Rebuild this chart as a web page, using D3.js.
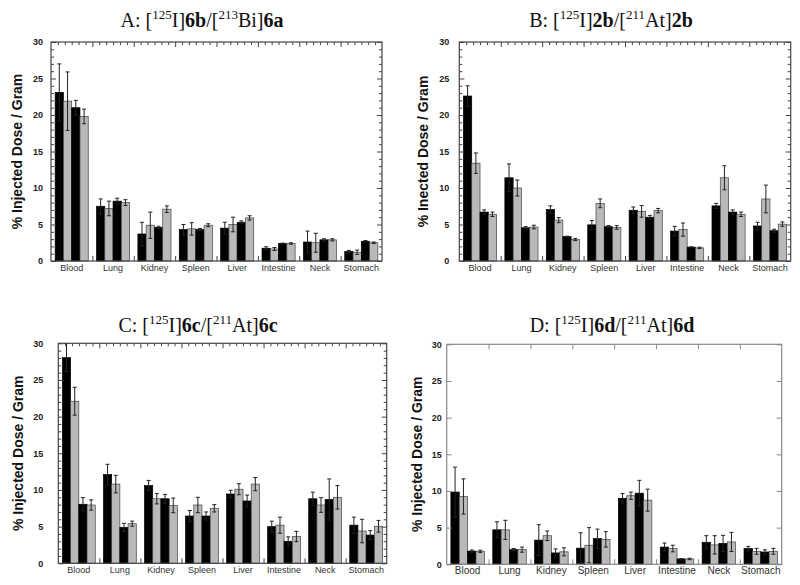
<!DOCTYPE html>
<html><head><meta charset="utf-8">
<script src="https://cdn.jsdelivr.net/npm/d3@7"></script>
<style>body{margin:0;background:#fff}svg{display:block}</style>
</head><body><div id="chart"></div>
<script>
const categories = ["Blood","Lung","Kidney","Spleen","Liver","Intestine","Neck","Stomach"];
const seriesKeys = ["I125_first","At_first","I125_second","At_second"];
const seriesFill = ["black","gray","black","gray"];
const yTicks = [0,5,10,15,20,25,30];

// Panel A: [125I]6b / [213Bi]6a  (mean per category, four bars)
const meanA = [[23.1,21.9,21.0,19.8],[7.5,7.2,8.2,8.0],[3.7,4.9,4.6,7.1],[4.3,4.4,4.3,4.9],[4.5,5.0,5.3,5.9],[1.75,1.65,2.4,2.4],[2.6,2.5,2.9,2.9],[1.3,1.2,2.7,2.5]];
const errA  = [[3.9,4.0,1.0,1.0],[1.0,1.0,0.4,0.4],[1.6,1.8,0.15,0.45],[0.7,0.85,0.15,0.2],[0.8,1.0,0.2,0.3],[0.2,0.2,0.05,0.1],[1.5,1.3,0.15,0.15],[0.15,0.3,0.1,0.1]];
// Panel B: [125I]2b / [211At]2b
const meanB = [[22.6,13.4,6.7,6.4],[11.4,10.0,4.55,4.65],[7.05,5.6,3.35,2.95],[4.95,7.9,4.7,4.6],[6.95,6.8,6.0,6.9],[4.1,4.3,1.9,1.8],[7.55,11.4,6.7,6.4],[4.8,8.5,4.15,5.05]];
const errB  = [[1.4,1.4,0.3,0.3],[1.9,1.1,0.15,0.25],[0.5,0.35,0.05,0.15],[0.6,0.6,0.15,0.25],[0.45,0.8,0.25,0.3],[0.65,0.9,0.05,0.1],[0.35,1.65,0.3,0.3],[0.5,1.9,0.2,0.3]];
// Panel C: [125I]6c / [211At]6c
const meanC = [[28.05,22.1,8.05,7.95],[12.1,10.8,4.9,5.4],[10.6,8.8,8.8,7.9],[6.45,7.95,6.45,7.5],[9.45,10.1,8.5,10.8],[5.0,5.2,3.0,3.65],[8.8,7.95,8.7,9.0],[5.2,4.4,3.85,5.05]];
const errC  = [[1.9,1.9,0.9,0.7],[1.4,1.2,0.55,0.35],[0.7,0.7,0.6,1.0],[0.75,1.05,0.55,0.5],[0.5,0.75,0.8,0.9],[0.75,1.1,0.6,0.7],[0.9,1.0,2.8,1.6],[1.1,1.6,0.6,0.8]];
// Panel D: [125I]6d / [211At]6d
const meanD = [[9.85,9.25,1.8,1.77],[4.7,4.7,2.0,2.0],[3.3,3.9,1.55,1.7],[2.2,2.6,3.5,3.4],[9.0,9.35,9.7,8.75],[2.35,2.15,0.73,0.73],[3.0,2.65,2.85,3.05],[2.15,1.77,1.68,1.77]];
const errD  = [[3.4,2.4,0.15,0.15],[1.1,1.3,0.15,0.35],[2.1,0.65,0.55,0.55],[2.1,2.4,1.3,1.05],[0.65,0.5,1.75,1.5],[0.55,0.45,0.05,0.1],[0.9,1.25,1.1,1.3],[0.3,0.4,0.3,0.4]];

const titleA = [["A: [",""],["125","sup"],["I]",""],["6b","b"],["/[",""],["213","sup"],["Bi]",""],["6a","b"]];
const titleB = [["B: [",""],["125","sup"],["I]",""],["2b","b"],["/[",""],["211","sup"],["At]",""],["2b","b"]];
const titleC = [["C: [",""],["125","sup"],["I]",""],["6c","b"],["/[",""],["211","sup"],["At]",""],["6c","b"]];
const titleD = [["D: [",""],["125","sup"],["I]",""],["6d","b"],["/[",""],["211","sup"],["At]",""],["6d","b"]];
const yLabelA = "% Injected Dose / Gram";
const yLabelB = "% Inected Dose / Gram";

const panels = [
  {mean:meanA, err:errA, title:titleA, ylab:yLabelA, L:51, R:382, T:42, B:261, tx:202, ty:27, lx:22, pad:8, frame:"#444", minor:true, catSize:9, catDy:13},
  {mean:meanB, err:errB, title:titleB, ylab:yLabelB, L:459.3, R:790.7, T:42, B:261, tx:611, ty:27, lx:428, pad:10, frame:"#444", minor:true, catSize:9, catDy:13},
  {mean:meanC, err:errC, title:titleC, ylab:yLabelA, L:58.3, R:386.7, T:343.3, B:563.3, tx:198, ty:332, lx:23, pad:15, frame:"#444", minor:true, catSize:9, catDy:12},
  {mean:meanD, err:errD, title:titleD, ylab:yLabelA, L:446.7, R:781.7, T:344.3, B:564.3, tx:612, ty:332, lx:422, pad:5, frame:"#888", minor:false, catSize:10, catDy:12}
];

const svg = d3.select("#chart").append("svg").attr("width",800).attr("height",585);
const sans = "'Liberation Sans', Arial, sans-serif";

panels.forEach(p => {
  const g = svg.append("g");
  const x0 = d3.scaleBand().domain(categories).range([p.L,p.R]).paddingInner(0).paddingOuter(0);
  const bw = x0.bandwidth();
  const x1 = d3.scaleBand().domain(seriesKeys).range([bw*0.1, bw*0.9]).padding(0);
  const y = d3.scaleLinear().domain([0,30]).range([p.B,p.T]);

  // bars
  categories.forEach((c,ci) => {
    const cg = g.append("g").attr("transform",`translate(${x0(c)},0)`);
    seriesKeys.forEach((k,si) => {
      const v = p.mean[ci][si], e = p.err[ci][si];
      const bx = x1(k), w = x1.bandwidth();
      const isBlack = seriesFill[si]==="black";
      cg.append("rect").attr("x",bx).attr("y",y(v)).attr("width",w).attr("height",y(0)-y(v))
        .attr("fill", isBlack ? "#000" : "#b9b9b9").attr("stroke", isBlack ? "#000" : "#444").attr("stroke-width",0.7);
      const cx = bx + w/2;
      const top = Math.min(v+e,30);
      cg.append("line").attr("x1",cx).attr("x2",cx).attr("y1",y(top)).attr("y2",y(v-e)).attr("stroke","#222").attr("stroke-width",1);
      [top, v-e].forEach(t => cg.append("line").attr("x1",cx-2).attr("x2",cx+2).attr("y1",y(t)).attr("y2",y(t)).attr("stroke","#222").attr("stroke-width",1));
    });
  });

  // frame
  g.append("rect").attr("x",p.L).attr("y",p.T).attr("width",p.R-p.L).attr("height",p.B-p.T)
    .attr("fill","none").attr("stroke",p.frame).attr("stroke-width",1.2);

  const tickStyle = sel => { sel.select(".domain").remove(); sel.selectAll("line").attr("stroke",p.frame); sel.selectAll("text").remove(); };
  g.append("g").attr("transform",`translate(${p.L},0)`).call(d3.axisRight(y).tickValues(yTicks).tickSize(5)).call(tickStyle);
  g.append("g").attr("transform",`translate(${p.R},0)`).call(d3.axisLeft(y).tickValues(yTicks).tickSize(5)).call(tickStyle);
  const bounds = d3.range(1,categories.length).map(i => x0(categories[i]));
  const bScale = d3.scaleLinear().domain([p.L,p.R]).range([p.L,p.R]);
  g.append("g").attr("transform",`translate(0,${p.B})`).call(d3.axisTop(bScale).tickValues(bounds).tickSize(5)).call(tickStyle);
  g.append("g").attr("transform",`translate(0,${p.T})`).call(d3.axisBottom(bScale).tickValues(bounds).tickSize(5)).call(tickStyle);
  if (p.minor) {
    const minorY = d3.range(0,31,1).filter(v => v%5!==0);
    g.append("g").attr("transform",`translate(${p.L},0)`).call(d3.axisRight(y).tickValues(minorY).tickSize(3)).call(tickStyle);
    g.append("g").attr("transform",`translate(${p.R},0)`).call(d3.axisLeft(y).tickValues(minorY).tickSize(3)).call(tickStyle);
    const minorX = d3.range(0, categories.length*6+1).filter(i => i%6!==0).map(i => p.L + i*bw/6);
    g.append("g").attr("transform",`translate(0,${p.T})`).call(d3.axisBottom(bScale).tickValues(minorX).tickSize(3)).call(tickStyle);
  }

  const ya = g.append("g").attr("transform",`translate(${p.L},0)`).call(d3.axisLeft(y).tickValues(yTicks).tickSize(0).tickPadding(p.pad));
  ya.select(".domain").remove();
  ya.selectAll("text").attr("font-family",sans).attr("font-weight","bold").attr("font-size",9).attr("fill","#222");

  const xa = g.append("g").attr("transform",`translate(0,${p.B})`).call(d3.axisBottom(x0).tickSize(0).tickPadding(p.catDy-9));
  xa.select(".domain").remove();
  xa.selectAll("text").attr("font-family",sans).attr("font-size",p.catSize).attr("fill","#333");

  g.append("text").attr("transform",`translate(${p.lx},${(p.T+p.B)/2}) rotate(-90)`)
    .attr("text-anchor","middle").attr("font-family",sans).attr("font-weight","bold").attr("font-size",14).attr("fill","#111").text(p.ylab);

  const t = g.append("text").attr("x",p.tx).attr("y",p.ty).attr("text-anchor","middle")
    .attr("font-family","'Liberation Serif', 'Times New Roman', serif").attr("font-size",20).attr("fill","#111");
  let raised = false;
  p.title.forEach(([s,kind]) => {
    const ts = t.append("tspan").text(s);
    if (kind==="sup") { ts.attr("font-size",13).attr("dy",-8); raised = true; }
    else { if (raised) { ts.attr("dy",8); raised=false; } if (kind==="b") ts.attr("font-weight","bold"); }
  });
});
</script></body></html>
